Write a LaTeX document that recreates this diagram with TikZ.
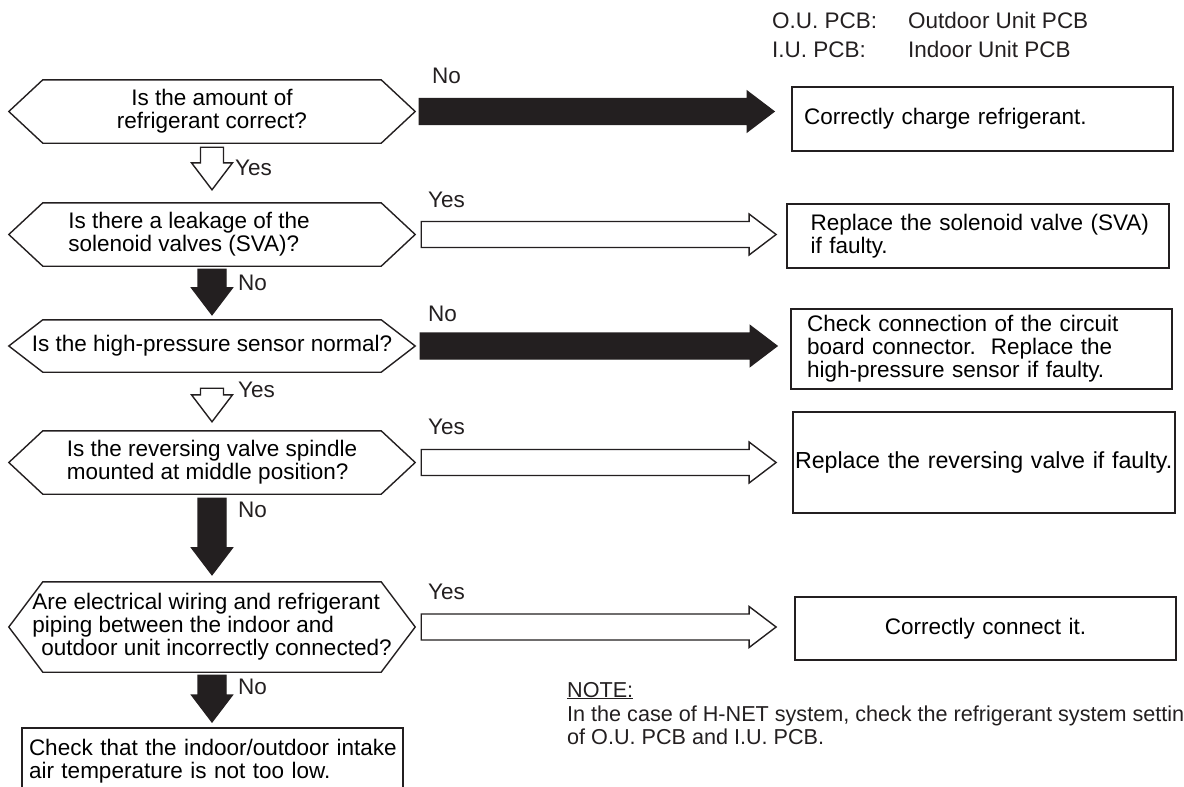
\documentclass[tikz,border=0pt]{standalone}
\usepackage{fontspec}
\setmainfont{Liberation Sans}
\usepackage{xcolor}
\definecolor{ink}{RGB}{35,31,32}
\usetikzlibrary{calc,positioning}
\newcommand{\qfont}{\fontsize{22.5}{23}\selectfont}
\newcommand{\notefont}{\fontsize{21.6}{23}\selectfont}
\newcommand{\shaft}{13pt}
% outline of a question node, pointed at both ends
\newcommand{\hexframe}[1]{%
  \draw[ink,line width=1.4pt,line join=miter]
    ([xshift=34pt]#1.north west) -- ([xshift=-34pt]#1.north east) -- (#1.east)
    -- ([xshift=-34pt]#1.south east) -- ([xshift=34pt]#1.south west) -- (#1.west) -- cycle;}

\begin{document}
\begin{tikzpicture}[x=1pt,y=-1pt,
  qhex/.style={rectangle,inner sep=0pt,minimum width=406pt,align=left,font=\qfont},
  rbox/.style={rectangle,draw=ink,line width=1.8pt,inner xsep=0pt,inner ysep=0pt,
               minimum width=381pt,text width=377pt,align=left,font=\qfont},
  lbl/.style={anchor=base west,inner sep=0pt,font=\qfont,text=ink},
  blackarr/.style={fill=ink,draw=ink,line width=1.2pt,line join=miter},
  whitearr/.style={fill=white,draw=ink,line width=1.4pt,line join=miter},
  shaftw/.code={\renewcommand{\shaft}{#1}},
  harr/.style={to path={let \p1=(\tikztostart), \p2=(\tikztotarget) in
    (\x1,\y1+13pt) -- (\x2-27pt,\y1+13pt) -- (\x2-27pt,\y1+20.5pt) -- (\x2,\y1)
    -- (\x2-27pt,\y1-20.5pt) -- (\x2-27pt,\y1-13pt) -- (\x1,\y1-13pt) -- cycle}},
  varr/.style={to path={let \p1=(\tikztostart), \p2=(\tikztotarget) in
    (\x1-\shaft,\y1) -- (\x1-\shaft,\y2+27pt) -- (\x1-20.5pt,\y2+27pt) -- (\x1,\y2)
    -- (\x1+20.5pt,\y2+27pt) -- (\x1+\shaft,\y2+27pt) -- (\x1+\shaft,\y1) -- cycle}},
]
  \useasboundingbox (0,0) rectangle (1184,787);
  \clip (0,0) rectangle (1184,787);

  % legend
  \node[lbl](ou) at (772,28) {O.U. PCB:};
  \node[lbl](oud) at (908,28) {Outdoor Unit PCB};
  \node[lbl](iu) at (772,57) {I.U. PCB:};
  \node[lbl](iud) at (908,57) {Indoor Unit PCB};

  % questions
  \node[qhex,minimum height=63pt,align=center](q1) at (212,111.5) {Is the amount of\\refrigerant correct?};
  \node[qhex,minimum height=63pt](q2) at (212,234.5) {Is there a leakage of the\hspace*{46pt}\\solenoid valves (SVA)?};
  \node[qhex,minimum height=52pt,align=center](q3) at (212,346) {Is the high-pressure sensor normal?};
  \node[qhex,minimum height=63pt](q4) at (212,462.5) {Is the reversing valve spindle\\mounted at middle position?};
  \node[qhex,minimum height=90pt](q5) at (212,627) {Are electrical wiring and refrigerant\\piping between the indoor and\\\hspace*{9pt}outdoor unit incorrectly connected?};
  \foreach \q in {q1,q2,q3,q4,q5}{\hexframe{\q}}

  % actions
  \node[rbox,minimum height=64pt](b1) at (982.5,119) {\hspace*{10pt}Correctly charge refrigerant.};
  \node[rbox,minimum height=64pt,minimum width=382pt](b2) at (978,236) {\hspace*{21pt}Replace the solenoid valve (SVA)\\\hspace*{21pt}if faulty.};
  \node[rbox,minimum height=80pt](b3) at (981.5,349) {\hspace*{14pt}Check connection of the circuit\\\hspace*{14pt}board connector.\ \ Replace the\\\hspace*{14pt}high-pressure sensor if faulty.};
  \node[rbox,minimum height=101pt,minimum width=382pt,text width=380pt,font=\fontsize{23.2}{23}\selectfont](b4) at (984,462.5) {\hspace*{1pt}Replace the reversing valve if faulty.};
  \node[rbox,minimum height=63pt,align=center](b5) at (985.5,628.5) {Correctly connect it.};
  \node[rbox,minimum height=66pt,anchor=north](b6) at (212.5,727) {\hspace*{5pt}Check that the indoor/outdoor intake\\\hspace*{5pt}air temperature is not too low.};

  % branches to the right
  \draw[blackarr,harr] ([xshift=4pt]q1.east) to ([xshift=-17pt]b1.west);
  \draw[whitearr,harr] ([xshift=6pt]q2.east) to ([xshift=-10pt]b2.west);
  \draw[blackarr,harr] ([xshift=5pt]q3.east) to ([xshift=-13pt]b3.west);
  \draw[whitearr,harr] ([xshift=6pt]q4.east) to ([xshift=-16pt]b4.west);
  \draw[whitearr,harr] ([xshift=6pt]q5.east) to ([xshift=-18pt]b5.west);
  \node[lbl](n1) at (432,83) {No};
  \node[lbl](y2) at (428,207) {Yes};
  \node[lbl](n3) at (428,321) {No};
  \node[lbl](y4) at (428,434) {Yes};
  \node[lbl](y5) at (428,599) {Yes};

  % downward steps
  \draw[whitearr,shaftw=11.5pt,varr] ([yshift=-4pt]q1.south) to ([yshift=13pt]q2.north);
  \draw[blackarr,shaftw=14pt,varr] ([yshift=-3pt]q2.south) to ([yshift=5pt]q3.north);
  \draw[whitearr,shaftw=11.5pt,varr] ([yshift=-16pt]q3.south) to ([yshift=9pt]q4.north);
  \draw[blackarr,shaftw=14pt,varr] ([yshift=-4pt]q4.south) to ([yshift=7pt]q5.north);
  \draw[blackarr,shaftw=14pt,varr] ([yshift=-3pt]q5.south) to ([yshift=5pt]b6.north);
  \node[lbl](y1) at (235,175) {Yes};
  \node[lbl](n2) at (238,290) {No};
  \node[lbl](y3) at (238,397) {Yes};
  \node[lbl](n4) at (238,517) {No};
  \node[lbl](n5) at (238,694) {No};

  % note
  \node[lbl,font=\notefont](nt) at (567,697) {\underline{NOTE:}};
  \node[lbl,font=\notefont](nt1) at (567,721) {In the case of H-NET system, check the refrigerant system settings};
  \node[lbl,font=\notefont](nt2) at (567,744) {of O.U. PCB and I.U. PCB.};
\end{tikzpicture}
\end{document}
